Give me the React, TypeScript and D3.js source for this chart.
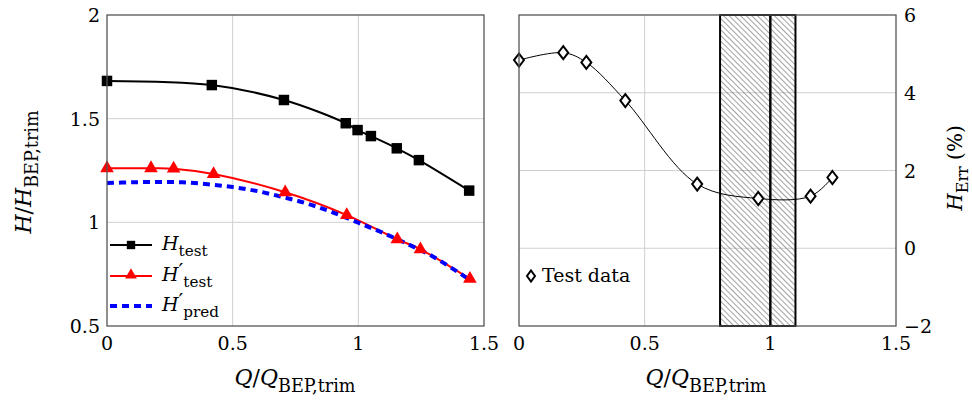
import React, { useRef, useEffect } from 'react';
import * as d3 from 'd3';

// left panel: head curves
const qTest = [0, 0.417, 0.704, 0.95, 0.997, 1.05, 1.153, 1.241, 1.441];
const hTest = [1.682, 1.662, 1.59, 1.478, 1.445, 1.416, 1.357, 1.3, 1.153];
const qTestTrim = [0, 0.175, 0.265, 0.424, 0.709, 0.954, 1.155, 1.247, 1.444];
const hTestTrim = [1.261, 1.261, 1.259, 1.233, 1.145, 1.035, 0.918, 0.87, 0.727];
const qPred = [0, 0.1, 0.2, 0.3, 0.4, 0.5, 0.6, 0.7, 0.8, 0.9, 1.0, 1.1, 1.2, 1.3, 1.444];
const hPred = [1.19, 1.193, 1.195, 1.193, 1.184, 1.17, 1.15, 1.122, 1.089, 1.047, 0.998, 0.948, 0.893, 0.833, 0.722];

// right panel: error
const qErr = [0, 0.176, 0.268, 0.423, 0.709, 0.952, 1.16, 1.247];
const hErr = [4.84, 5.03, 4.78, 3.8, 1.65, 1.28, 1.34, 1.82];
const bandStarts = [0.8, 1.0];
const bandEnds = [1.0, 1.1];

const xTicks = [0, 0.5, 1, 1.5];
const yTicksLeft = [0.5, 1, 1.5, 2];
const yTicksRight = [-2, 0, 2, 4, 6];

type Part = [string, 'i' | 'r' | 's' | 'p'];

const FONT = '"DejaVu Serif", "Liberation Serif", serif';

const App = () => {
    const svgRef = useRef<SVGSVGElement>(null);

    useEffect(() => {
        const svg = d3.select(svgRef.current);
        svg.selectAll('*').remove();

        const top = 15, bottom = 326;
        const fmt = (d: number) => (d < 0 ? '\u2212' + Math.abs(d) : String(d));

        // writes math-like text using tspans (italic, roman, subscript, prime)
        const mathText = (g: any, parts: Part[], size: number) => {
            const t = g.append('text').attr('font-family', FONT).attr('font-size', size).attr('fill', '#000');
            let shift = 0;
            const sub = Math.round(size * 0.3);
            parts.forEach(([s, k]) => {
                const ts = t.append('tspan').text(s);
                if (k === 'i') {
                    ts.attr('font-style', 'italic').attr('dy', -shift);
                    shift = 0;
                } else if (k === 'r') {
                    ts.attr('dy', -shift);
                    shift = 0;
                } else if (k === 's') {
                    ts.attr('font-size', size * 0.8).attr('dy', sub - shift);
                    shift = sub;
                } else if (k === 'p') {
                    ts.attr('font-size', size * 1.1).attr('dy', -shift - 3);
                    shift = -3;
                }
            });
            return t;
        };

        const defs = svg.append('defs');
        const pat = defs.append('pattern')
            .attr('id', 'hatch')
            .attr('patternUnits', 'userSpaceOnUse')
            .attr('width', 4)
            .attr('height', 4)
            .attr('patternTransform', 'rotate(-45)');
        pat.append('line')
            .attr('x1', 0).attr('y1', 0).attr('x2', 0).attr('y2', 4)
            .attr('stroke', '#444').attr('stroke-width', 1);

        // ---------- left panel ----------
        const xL = d3.scaleLinear().domain([0, 1.5]).range([107, 484]);
        const yL = d3.scaleLinear().domain([0.5, 2]).range([bottom, top]);
        const gL = svg.append('g');

        gL.selectAll('.gx').data(xTicks.slice(1, -1)).enter().append('line')
            .attr('x1', d => xL(d)).attr('x2', d => xL(d)).attr('y1', top).attr('y2', bottom)
            .attr('stroke', '#cfcfcf').attr('stroke-width', 1);
        gL.selectAll('.gy').data(yTicksLeft.slice(1, -1)).enter().append('line')
            .attr('x1', 107).attr('x2', 484).attr('y1', d => yL(d)).attr('y2', d => yL(d))
            .attr('stroke', '#cfcfcf').attr('stroke-width', 1);

        const smooth = d3.curveCatmullRom.alpha(0.5);

        const lineTest = d3.line<number>().x((d, i) => xL(qTest[i])).y(d => yL(d)).curve(smooth);
        const lineTrim = d3.line<number>().x((d, i) => xL(qTestTrim[i])).y(d => yL(d)).curve(smooth);
        const linePred = d3.line<number>().x((d, i) => xL(qPred[i])).y(d => yL(d)).curve(smooth);

        gL.append('path').attr('d', lineTest(hTest)).attr('fill', 'none').attr('stroke', '#000').attr('stroke-width', 2);
        gL.append('path').attr('d', lineTrim(hTestTrim)).attr('fill', 'none').attr('stroke', '#ff0000').attr('stroke-width', 2);
        gL.append('path').attr('d', linePred(hPred)).attr('fill', 'none').attr('stroke', '#0000ff')
            .attr('stroke-width', 4).attr('stroke-dasharray', '7,5');

        const sq = d3.symbol().type(d3.symbolSquare).size(110);
        gL.selectAll('.sq').data(hTest).enter().append('path')
            .attr('d', sq)
            .attr('transform', (d, i) => `translate(${xL(qTest[i])},${yL(d)})`)
            .attr('fill', '#000');
        const tri = d3.symbol().type(d3.symbolTriangle).size(80);
        gL.selectAll('.tri').data(hTestTrim).enter().append('path')
            .attr('d', tri)
            .attr('transform', (d, i) => `translate(${xL(qTestTrim[i])},${yL(d)})`)
            .attr('fill', '#ff0000');

        gL.append('rect').attr('x', 107).attr('y', top).attr('width', 377).attr('height', bottom - top)
            .attr('fill', 'none').attr('stroke', '#555').attr('stroke-width', 1.3);

        gL.selectAll('.ty').data(yTicksLeft).enter().append('text')
            .attr('x', 100).attr('y', d => yL(d) + 7)
            .attr('text-anchor', 'end').attr('font-family', FONT).attr('font-size', 19)
            .text(fmt);
        gL.selectAll('.tx').data(xTicks).enter().append('text')
            .attr('x', d => xL(d)).attr('y', 350)
            .attr('text-anchor', 'middle').attr('font-family', FONT).attr('font-size', 19)
            .text(fmt);

        // legend
        const legRows = [245, 276, 306];
        const lg = gL.append('g');
        lg.append('line').attr('x1', 110).attr('x2', 152).attr('y1', legRows[0]).attr('y2', legRows[0]).attr('stroke', '#000').attr('stroke-width', 2);
        lg.append('path').attr('d', d3.symbol().type(d3.symbolSquare).size(70)).attr('transform', `translate(131,${legRows[0]})`).attr('fill', '#000');
        lg.append('line').attr('x1', 110).attr('x2', 152).attr('y1', legRows[1]).attr('y2', legRows[1]).attr('stroke', '#ff0000').attr('stroke-width', 2);
        lg.append('path').attr('d', d3.symbol().type(d3.symbolTriangle).size(60)).attr('transform', `translate(131,${legRows[1] - 1})`).attr('fill', '#ff0000');
        lg.append('line').attr('x1', 110).attr('x2', 152).attr('y1', legRows[2]).attr('y2', legRows[2]).attr('stroke', '#0000ff').attr('stroke-width', 4).attr('stroke-dasharray', '7,5');

        mathText(lg, [['H', 'i'], ['test', 's']], 19).attr('x', 162).attr('y', legRows[0] + 5);
        mathText(lg, [['H', 'i'], ['\u2032', 'p'], ['test', 's']], 19).attr('x', 162).attr('y', legRows[1] + 5);
        mathText(lg, [['H', 'i'], ['\u2032', 'p'], ['pred', 's']], 19).attr('x', 162).attr('y', legRows[2] + 5);

        mathText(gL, [['Q', 'i'], ['/', 'r'], ['Q', 'i'], ['BEP,trim', 's']], 22)
            .attr('text-anchor', 'middle').attr('x', 295).attr('y', 385);
        mathText(gL, [['H', 'i'], ['/', 'r'], ['H', 'i'], ['BEP,trim', 's']], 22)
            .attr('text-anchor', 'middle').attr('transform', 'translate(31,172) rotate(-90)');

        // ---------- right panel ----------
        const xR = d3.scaleLinear().domain([0, 1.5]).range([519, 896]);
        const yR = d3.scaleLinear().domain([-2, 6]).range([bottom, top]);
        const gR = svg.append('g');

        gR.selectAll('.gx').data(xTicks.slice(1, -1)).enter().append('line')
            .attr('x1', d => xR(d)).attr('x2', d => xR(d)).attr('y1', top).attr('y2', bottom)
            .attr('stroke', '#cfcfcf').attr('stroke-width', 1);
        gR.selectAll('.gy').data(yTicksRight.slice(1, -1)).enter().append('line')
            .attr('x1', 519).attr('x2', 896).attr('y1', d => yR(d)).attr('y2', d => yR(d))
            .attr('stroke', '#cfcfcf').attr('stroke-width', 1);

        gR.selectAll('.band').data(bandStarts).enter().append('rect')
            .attr('x', d => xR(d)).attr('y', top)
            .attr('width', (d, i) => xR(bandEnds[i]) - xR(d)).attr('height', bottom - top)
            .attr('fill', 'url(#hatch)').attr('stroke', '#000').attr('stroke-width', 2);

        const lineErr = d3.line<number>().x((d, i) => xR(qErr[i])).y(d => yR(d)).curve(smooth);
        gR.append('path').attr('d', lineErr(hErr)).attr('fill', 'none').attr('stroke', '#000').attr('stroke-width', 1);

        const dia = (w: number, h: number) => `M0,${-h}L${w},0L0,${h}L${-w},0Z`;
        gR.selectAll('.dia').data(hErr).enter().append('path')
            .attr('d', dia(5, 6.5))
            .attr('transform', (d, i) => `translate(${xR(qErr[i])},${yR(d)})`)
            .attr('fill', '#fff').attr('stroke', '#000').attr('stroke-width', 2);

        gR.append('rect').attr('x', 519).attr('y', top).attr('width', 377).attr('height', bottom - top)
            .attr('fill', 'none').attr('stroke', '#555').attr('stroke-width', 1.3);

        gR.selectAll('.ty').data(yTicksRight).enter().append('text')
            .attr('x', 904).attr('y', d => yR(d) + 7)
            .attr('text-anchor', 'start').attr('font-family', FONT).attr('font-size', 19)
            .text(fmt);
        gR.selectAll('.tx').data(xTicks).enter().append('text')
            .attr('x', d => xR(d)).attr('y', 350)
            .attr('text-anchor', 'middle').attr('font-family', FONT).attr('font-size', 19)
            .text(fmt);

        gR.append('path').attr('d', dia(4, 5.5)).attr('transform', 'translate(531,276)')
            .attr('fill', '#fff').attr('stroke', '#000').attr('stroke-width', 2);
        gR.append('text').attr('x', 542).attr('y', 282).attr('font-family', FONT).attr('font-size', 19).text('Test data');

        mathText(gR, [['Q', 'i'], ['/', 'r'], ['Q', 'i'], ['BEP,trim', 's']], 22)
            .attr('text-anchor', 'middle').attr('x', 706).attr('y', 385);
        mathText(gR, [['H', 'i'], ['Err', 's'], [' (%)', 'r']], 20)
            .attr('text-anchor', 'middle').attr('transform', 'translate(962,168) rotate(-90)');
    }, []);

    return (
        <svg ref={svgRef} width={972} height={400}
            style={{ position: 'absolute', left: 0, top: 0, background: '#fff' }}></svg>
    );
};

export default App;
